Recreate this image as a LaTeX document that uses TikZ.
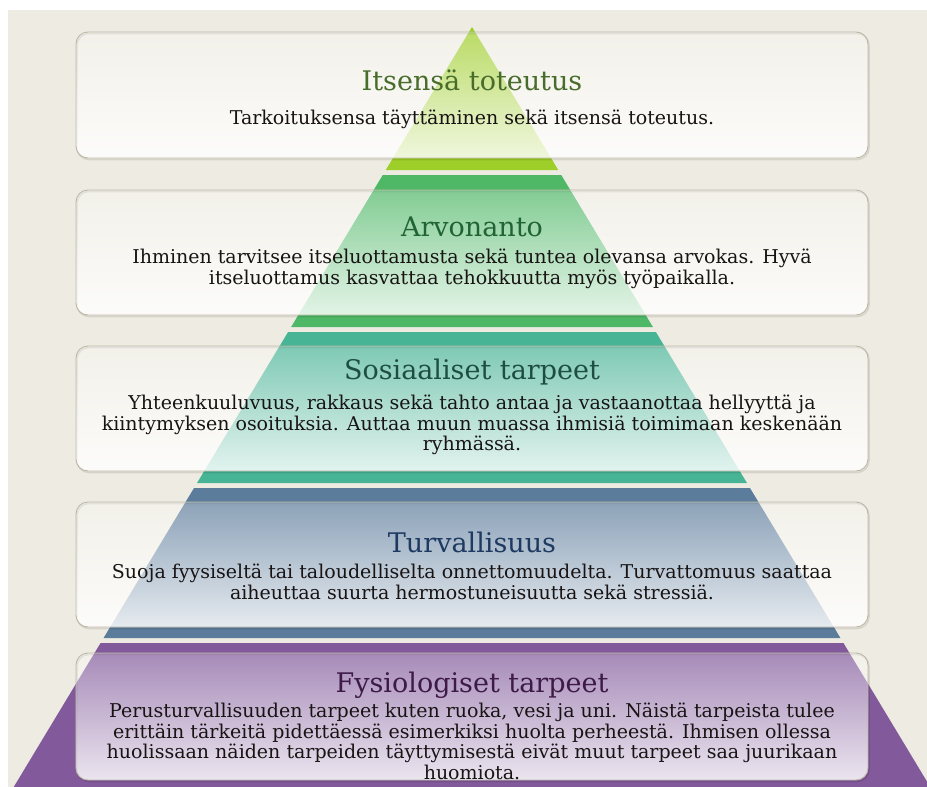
\documentclass[tikz,border=0pt]{standalone}
\usepackage{fontspec}
\setmainfont{DejaVu Serif}
\usetikzlibrary{fadings}
\definecolor{bgbeige}{RGB}{238,236,226}
\definecolor{bandA}{RGB}{158,206,40}
\definecolor{bandB}{RGB}{78,184,102}
\definecolor{bandC}{RGB}{72,180,150}
\definecolor{bandD}{RGB}{92,124,155}
\definecolor{bandE}{RGB}{130,90,155}
\definecolor{titleA}{RGB}{72,108,42}
\definecolor{titleB}{RGB}{32,100,52}
\definecolor{titleC}{RGB}{30,78,66}
\definecolor{titleD}{RGB}{30,58,98}
\definecolor{titleE}{RGB}{62,26,72}
\definecolor{bodytext}{RGB}{24,20,20}
\definecolor{boxline}{RGB}{188,184,166}
\newcommand\pyrband[3]{%
  \fill[#3] ({472-0.603*(#1-27)},#1) -- ({472+0.603*(#1-27)},#1) --
            ({472+0.603*(#2-27)},#2) -- ({472-0.603*(#2-27)},#2) -- cycle;}
\newcommand\ovbox[2]{%
  \draw[black, opacity=0.10, line width=1.6pt, rounded corners=12pt] (77,#1+1.5) rectangle (869,#2+1.5);
  \fill[white, fill opacity=0.30, rounded corners=12pt] (76,#1) rectangle (868,#2);
  \fill[white, fill opacity=0.78, path fading=north, rounded corners=12pt] (76,#1) rectangle (868,#2);
  \draw[boxline, line width=0.9pt, rounded corners=12pt] (76,#1) rectangle (868,#2);}
\tikzset{
  titletext/.style={font=\fontsize{27}{30}\selectfont, inner sep=0pt},
  bodytextstyle/.style={font=\fontsize{19}{20.5}\selectfont, text=bodytext, align=center, inner sep=0pt},
}
\begin{document}
\begin{tikzpicture}[x=1pt, y=-1pt]
\useasboundingbox (0,0) rectangle (927,787);
\fill[white] (0,0) rectangle (927,787);
\fill[bgbeige] (8,10) rectangle (927,787);
\begin{scope}
\clip (0,0) rectangle (927,787);
\fill[bandA] (472,27) -- ({472+0.603*143},170) -- ({472-0.603*143},170) -- cycle;
\pyrband{175}{327}{bandB}
\pyrband{332}{483}{bandC}
\pyrband{488}{638}{bandD}
\pyrband{643}{787}{bandE}
\end{scope}
\ovbox{32}{158}
\ovbox{190}{315}
\ovbox{346}{471}
\ovbox{502}{627}
\ovbox{653}{780}
\node[titletext, text=titleA] (t1) at (472,80) {Itsensä toteutus};
\node[bodytextstyle] (b1) at (472,119) {Tarkoituksensa täyttäminen sekä itsensä toteutus.};
\node[titletext, text=titleB] (t2) at (472,227) {Arvonanto};
\node[bodytextstyle] (b2) at (472,269) {Ihminen tarvitsee itseluottamusta sekä tuntea olevansa arvokas. Hyvä\\itseluottamus kasvattaa tehokkuutta myös työpaikalla.};
\node[titletext, text=titleC] (t3) at (472,372) {Sosiaaliset tarpeet};
\node[bodytextstyle] (b3) at (472,425) {Yhteenkuuluvuus, rakkaus sekä tahto antaa ja vastaanottaa hellyyttä ja\\kiintymyksen osoituksia. Auttaa muun muassa ihmisiä toimimaan keskenään\\ryhmässä.};
\node[titletext, text=titleD] (t4) at (472,542) {Turvallisuus};
\node[bodytextstyle] (b4) at (472,582) {Suoja fyysiseltä tai taloudelliselta onnettomuudelta. Turvattomuus saattaa\\aiheuttaa suurta hermostuneisuutta sekä stressiä.};
\node[titletext, text=titleE] (t5) at (472,685) {Fysiologiset tarpeet};
\node[bodytextstyle] (b5) at (472,741.5) {Perusturvallisuuden tarpeet kuten ruoka, vesi ja uni. Näistä tarpeista tulee\\erittäin tärkeitä pidettäessä esimerkiksi huolta perheestä. Ihmisen ollessa\\huolissaan näiden tarpeiden täyttymisestä eivät muut tarpeet saa juurikaan\\huomiota.};
\end{tikzpicture}
\end{document}
